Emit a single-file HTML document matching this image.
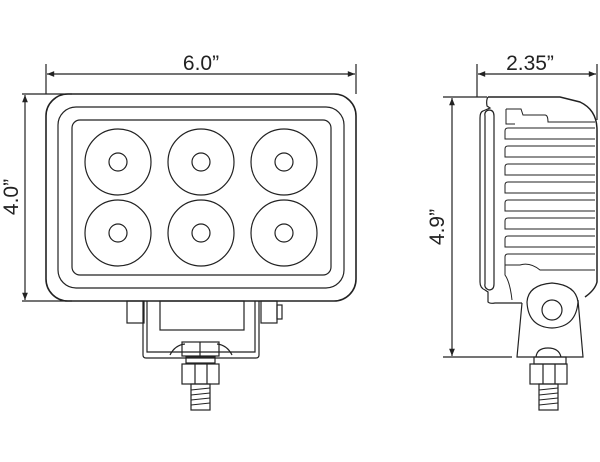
<!DOCTYPE html>
<html><head><style>body{margin:0;background:#fff}svg{display:block}</style></head><body>
<svg width="600" height="462" viewBox="0 0 600 462" xmlns="http://www.w3.org/2000/svg" font-family="Liberation Sans, sans-serif">
<defs><marker id="a" viewBox="0 0 10 10" refX="10" refY="5" markerWidth="8" markerHeight="6" orient="auto-start-reverse"><path d="M0,1 L10,5 L0,9z" fill="#222"/></marker></defs>
<g fill="none" stroke="#222" stroke-width="1.2">
<line x1="46" y1="64" x2="46" y2="94"/><line x1="356" y1="64" x2="356" y2="94"/>
<line x1="47" y1="74" x2="355" y2="74" marker-start="url(#a)" marker-end="url(#a)"/>
<line x1="22" y1="94" x2="72" y2="94"/><line x1="22" y1="301" x2="72" y2="301"/>
<line x1="25" y1="95" x2="25" y2="300" marker-start="url(#a)" marker-end="url(#a)"/>
<rect x="46" y="94" width="310" height="207" rx="22" stroke-width="1.6"/>
<rect x="58" y="107" width="286" height="181" rx="18"/>
<rect x="72" y="120" width="259" height="155" rx="8"/>
<g>
<circle cx="118" cy="162" r="33"/><circle cx="201" cy="162" r="33"/><circle cx="284" cy="162" r="33"/>
<circle cx="118" cy="233" r="33"/><circle cx="201" cy="233" r="33"/><circle cx="284" cy="233" r="33"/>
<circle cx="118" cy="162" r="9"/><circle cx="201" cy="162" r="9"/><circle cx="284" cy="162" r="9"/>
<circle cx="118" cy="233" r="9"/><circle cx="201" cy="233" r="9"/><circle cx="284" cy="233" r="9"/>
</g>
<rect x="127" y="301" width="17" height="22"/><rect x="261" y="301" width="16" height="22"/><rect x="277" y="305" width="5" height="14"/>
<path d="M143,301 V355 Q143,358 146,358 H256 Q259,358 259,355 V301"/>
<path d="M147,301 V352 H255 V301"/>
<rect x="160" y="301" width="84" height="29"/>
<path d="M170,355 Q175,345 185,344 M232,355 Q227,345 217,344"/>
<rect x="182" y="342" width="37" height="14"/><line x1="200" y1="342" x2="200" y2="356"/>
<rect x="186" y="357" width="29" height="6"/>
<rect x="182" y="364" width="37" height="20"/><line x1="195" y1="364" x2="195" y2="384"/><line x1="207" y1="364" x2="207" y2="384"/>
<rect x="191" y="384" width="19" height="26"/>
<path d="M191,390 L210,388 M191,395 L210,393 M191,400 L210,398 M191,405 L210,403" stroke-width="0.9"/>
<line x1="477" y1="64" x2="477" y2="97"/><line x1="597" y1="64" x2="597" y2="120"/>
<line x1="478" y1="74" x2="596" y2="74" marker-start="url(#a)" marker-end="url(#a)"/>
<line x1="443" y1="97" x2="487" y2="97"/><line x1="443" y1="357" x2="512" y2="357"/>
<line x1="452" y1="98" x2="452" y2="356" marker-start="url(#a)" marker-end="url(#a)"/>
<path d="M488,97 H560 L580,102 Q597,110 597,130 V282 Q595,290 585,297" stroke-width="1.5"/>
<path d="M488,97 Q486,100 487,106 L490,108 L483,111 Q480,112 480,118 V282 Q480,288 485,290 L488,292 V302 Q490,304 495,303 H522"/>
<path d="M489,110 Q494,110 494,116 V284 Q494,290 489,290 Q484,288 485,284 V116 Q484,111 489,110"/>
<path d="M506,109 H521 L523,115 H545 Q548,115 548,122 H595" stroke-width="1"/>
<g stroke-width="1">
<path d="M506,109 V124 H515"/>
<path d="M595,128 H508 Q505,128 505,131 V139 H595"/>
<path d="M595,146 H508 Q505,146 505,149 V157 H595"/>
<path d="M595,164 H508 Q505,164 505,167 V175 H595"/>
<path d="M595,182 H508 Q505,182 505,185 V193 H595"/>
<path d="M595,200 H508 Q505,200 505,203 V211 H595"/>
<path d="M595,218 H508 Q505,218 505,221 V229 H595"/>
<path d="M595,236 H508 Q505,236 505,239 V247 H595"/>
<path d="M595,254 H508 Q505,254 505,257 V265 H520 Q530,262 540,270 H595"/>
<path d="M505,265 V275 Q510,282 512,300"/>
</g>
<path d="M527,302 Q528,285 552,283 Q576,285 578,302 Q576,327 552,328 Q528,327 527,302"/>
<circle cx="552" cy="310" r="10"/>
<path d="M522,303 L517,357 H583 L578,300"/>
<path d="M536,357 Q537,348 548,348 Q559,348 561,357"/>
<rect x="534" y="357" width="32" height="7"/>
<rect x="530" y="364" width="37" height="20"/><line x1="543" y1="364" x2="543" y2="384"/><line x1="555" y1="364" x2="555" y2="384"/>
<rect x="539" y="384" width="19" height="26"/>
<path d="M539,390 L558,388 M539,395 L558,393 M539,400 L558,398 M539,405 L558,403" stroke-width="0.9"/>
</g>
<g fill="#222" font-size="21">
<text x="201" y="70" text-anchor="middle">6.0”</text>
<text x="530" y="70" text-anchor="middle">2.35”</text>
<text transform="translate(18,197) rotate(-90)" text-anchor="middle">4.0”</text>
<text transform="translate(444,227) rotate(-90)" text-anchor="middle">4.9”</text>
</g>
</svg>
</body></html>
